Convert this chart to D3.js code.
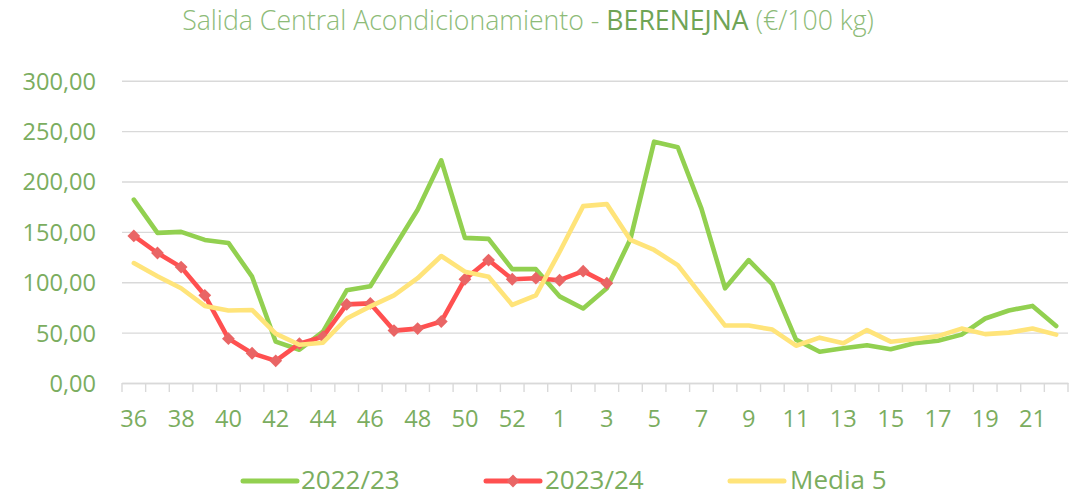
<!DOCTYPE html>
<html>
<head>
<meta charset="utf-8">
<script src="https://cdn.jsdelivr.net/npm/d3@7"></script>
<style>
  html, body { margin: 0; padding: 0; background: #fff; }
  svg { display: block; }
  text { font-family: "Open Sans", "Noto Sans", sans-serif; }
</style>
</head>
<body>
<svg id="chart" width="1089" height="496"></svg>
<script>
// ---- data ----
const weeks = ["36","37","38","39","40","41","42","43","44","45","46","47","48","49","50","51","52","53",
               "1","2","3","4","5","6","7","8","9","10","11","12","13","14","15","16","17","18","19","20","21","22"];
const serie2223 = [182, 149, 150, 142, 139, 105.5, 41, 33, 51, 92, 96, 134, 172, 221, 144, 143, 113, 113,
                   86, 74, 94, 143, 239.5, 234, 173, 94, 122, 98, 43, 31, 34.5, 37.5, 33.5, 39.5, 42, 48, 64, 72, 76.5, 56.5];
const serie2324 = [146, 129, 115, 87, 44, 29.5, 22, 39, 46, 78, 79, 52, 54, 61, 103, 122, 103, 104,
                   102, 111, 99];
const media5 = [119, 106, 94, 76.5, 72, 72.5, 49, 38, 40, 64, 76, 87, 104, 126, 110.5, 105.5, 77.5, 87,
                130, 175.5, 177.5, 142, 132, 117, 87, 57, 57, 53, 37, 45, 39.5, 52.5, 41, 43.5, 46.5, 54, 48.5, 50, 54, 48];
const yTicks = [0, 50, 100, 150, 200, 250, 300];
const seriesNames = ["2022/23", "2023/24", "Media 5"];
const titleParts = ["Salida Central Acondicionamiento - ", "BERENEJNA", " (€/100 kg)"];

(function () {
// ---- styles ----
const colGreen = "#92D050", colRed = "#FF5050", colMarker = "#E96565", colYellow = "#FFE47A";
const txtCol = "#7BAD5F";

const svg = d3.select("#chart");
const pLeft = 122, pRight = 1068, pTop = 80.7, pBottom = 383;

const x = d3.scaleBand().domain(weeks).range([pLeft, pRight]).paddingInner(0).paddingOuter(0);
const y = d3.scaleLinear().domain([0, 300]).range([pBottom, pTop]);
const cx = d => x(d) + x.bandwidth() / 2;

// gridlines + y labels
const yAxis = d3.axisLeft(y).tickValues(yTicks)
  .tickSize(-(pRight - pLeft)).tickPadding(26)
  .tickFormat(d => d3.format(".2f")(d).replace(".", ","));
const gy = svg.append("g").attr("transform", `translate(${pLeft},0)`).call(yAxis);
gy.select(".domain").remove();
gy.selectAll(".tick line").attr("stroke", "#D9D9D9").attr("stroke-width", 1.4);
gy.selectAll(".tick text").attr("fill", txtCol).attr("font-size", 23.6).attr("dy", "0.36em");

// x axis: labels at every other category
const xAxis = d3.axisBottom(x).tickValues(weeks.filter((d, i) => i % 2 === 0))
  .tickSize(0).tickPadding(27);
const gx = svg.append("g").attr("transform", `translate(0,${pBottom})`).call(xAxis);
gx.select(".domain").attr("stroke", "#D9D9D9").attr("stroke-width", 1.4);
gx.selectAll(".tick text").attr("fill", txtCol).attr("font-size", 23.6);
// boundary tick marks
const bounds = weeks.map(w => x(w)).concat([pRight]);
svg.append("g").selectAll("line").data(bounds).join("line")
  .attr("x1", d => d).attr("x2", d => d)
  .attr("y1", pBottom).attr("y2", pBottom + 9)
  .attr("stroke", "#D9D9D9").attr("stroke-width", 1.4);

// lines
const line = d3.line()
  .defined(d => d.v != null)
  .x(d => cx(d.w)).y(d => y(d.v));
const toPts = arr => weeks.map((w, i) => ({ w, v: i < arr.length ? arr[i] : null }));

function drawLine(arr, color) {
  svg.append("path").datum(toPts(arr)).attr("d", line)
    .attr("fill", "none").attr("stroke", color).attr("stroke-width", 4.6)
    .attr("stroke-linejoin", "round").attr("stroke-linecap", "round");
}
drawLine(serie2223, colGreen);
drawLine(serie2324, colRed);
const diamond = d3.symbol().type(d3.symbolDiamond2).size(105);
svg.append("g").selectAll("path").data(toPts(serie2324).filter(d => d.v != null)).join("path")
  .attr("d", diamond)
  .attr("transform", d => `translate(${cx(d.w)},${y(d.v)})`)
  .attr("fill", colMarker);
drawLine(media5, colYellow);

// title
const title = svg.append("text").attr("x", 528).attr("y", 30).attr("text-anchor", "middle").attr("font-size", 27);
title.append("tspan").text(titleParts[0]).attr("fill", "#8DBB78").attr("font-weight", 300);
title.append("tspan").text(titleParts[1]).attr("fill", "#6FA456").attr("font-weight", 400);
title.append("tspan").text(titleParts[2]).attr("fill", "#8DBB78").attr("font-weight", 300);
const tw = title.node().getComputedTextLength();
title.attr("font-size", 27 * 692 / tw);

// legend
const legendItems = [
  { name: seriesNames[0], color: colGreen, x1: 243, x2: 297, tx: 301, marker: false },
  { name: seriesNames[1], color: colRed, x1: 486, x2: 540, tx: 545, marker: true },
  { name: seriesNames[2], color: colYellow, x1: 730, x2: 784, tx: 790, marker: false }
];
const lg = svg.append("g");
legendItems.forEach(it => {
  lg.append("line").attr("x1", it.x1).attr("x2", it.x2).attr("y1", 481).attr("y2", 481)
    .attr("stroke", it.color).attr("stroke-width", 5).attr("stroke-linecap", "round");
  if (it.marker) {
    lg.append("path").attr("d", diamond)
      .attr("transform", `translate(${(it.x1 + it.x2) / 2},481)`).attr("fill", colMarker);
  }
  lg.append("text").attr("x", it.tx).attr("y", 489).attr("fill", txtCol)
    .attr("font-size", 26).text(it.name);
});
})();
</script>
</body>
</html>
